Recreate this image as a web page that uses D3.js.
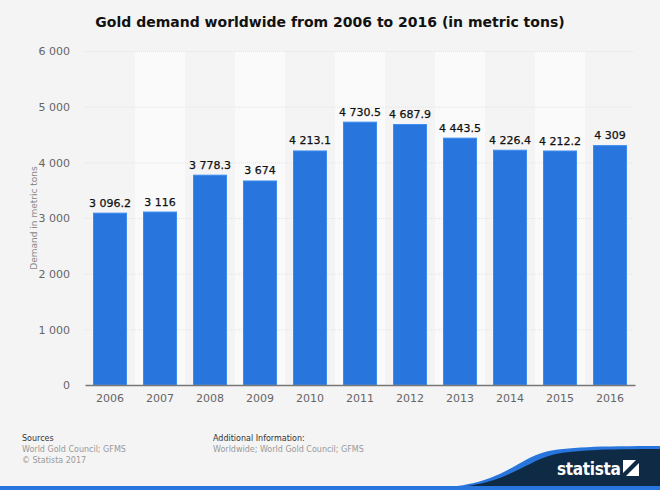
<!DOCTYPE html>
<html><head><meta charset="utf-8">
<script src="https://cdn.jsdelivr.net/npm/d3@7"></script>
<style>body{margin:0;background:#f4f4f4;} svg{display:block;}</style>
</head><body>
<svg id="c" width="660" height="490"></svg>
<script>
const years = ["2006","2007","2008","2009","2010","2011","2012","2013","2014","2015","2016"];
const demand = [3096.2, 3116, 3778.3, 3674, 4213.1, 4730.5, 4687.9, 4443.5, 4226.4, 4212.2, 4309];
const yTicks = [0, 1000, 2000, 3000, 4000, 5000, 6000];

const svg = d3.select("#c");
const font = "'DejaVu Sans', sans-serif";
svg.append("rect").attr("width",660).attr("height",490).attr("fill","#f4f4f4");

const m = {l:85, r:635, t:51, b:385};
const x = d3.scaleBand().domain(years).range([m.l, m.r]).paddingInner(0).paddingOuter(0);
const y = d3.scaleLinear().domain([0,6000]).range([m.b, m.t]);
const fmtTick = v => d3.format(",")(v).replace(/,/g, " ");

// alternating bands
svg.append("g").selectAll("rect").data(years.filter((d,i)=>i%2===1)).join("rect")
  .attr("x", d=>x(d)).attr("y", m.t).attr("width", x.bandwidth()).attr("height", m.b-m.t)
  .attr("fill","#fafafa");

// grid
svg.append("g").selectAll("line").data(yTicks.filter(d=>d>0)).join("line")
  .attr("x1", m.l).attr("x2", m.r).attr("y1", d=>y(d)+0.5).attr("y2", d=>y(d)+0.5)
  .attr("stroke","#e4e4e4").attr("stroke-dasharray","1,1");

// y axis
const ya = svg.append("g").attr("transform",`translate(${m.l-12},0)`)
  .call(d3.axisLeft(y).tickValues(yTicks).tickSize(0).tickFormat(fmtTick));
ya.select(".domain").remove();
ya.selectAll("text").attr("font-family",font).attr("font-size",11).attr("fill","#666").attr("dy","0.35em");

// bars
const bw = 34;
svg.append("g").selectAll("rect").data(demand).join("rect")
  .attr("x",(d,i)=>x(years[i])+x.bandwidth()/2-bw/2+0.5)
  .attr("y",d=>y(d)+0.5)
  .attr("width",bw-1).attr("height",d=>m.b-y(d)-0.5)
  .attr("fill","#2876dd").attr("stroke","#3b8cf0").attr("stroke-width",1);

// x axis
const xa = svg.append("g").attr("transform",`translate(0,${m.b})`)
  .call(d3.axisBottom(x).tickSize(0).tickPadding(9));
xa.select(".domain").attr("stroke","#777").attr("stroke-width",1.5);
xa.selectAll("text").attr("font-family",font).attr("font-size",11).attr("fill","#666");

// value labels
svg.append("g").selectAll("text").data(demand).join("text")
  .attr("x",(d,i)=>x(years[i])+x.bandwidth()/2)
  .attr("y",d=>y(d)-6)
  .attr("text-anchor","middle").attr("font-family",font).attr("font-size",11)
  .attr("fill","#111").attr("stroke","#111").attr("stroke-width",0.25)
  .text(d=>fmtTick(d));

// y title
svg.append("text").attr("transform",`translate(37,${(m.t+m.b)/2}) rotate(-90)`)
  .attr("text-anchor","middle").attr("font-family",font).attr("font-size",9).attr("fill","#888")
  .text("Demand in metric tons");

// title
svg.append("text").attr("x",330).attr("y",27).attr("text-anchor","middle")
  .attr("font-family",font).attr("font-size",14).attr("font-weight","bold").attr("fill","#111")
  .text("Gold demand worldwide from 2006 to 2016 (in metric tons)");

// footer
const ft = (t,x0,y0,c,s)=>svg.append("text").attr("x",x0).attr("y",y0).attr("font-family",font)
  .attr("font-size",s||8).attr("fill",c).text(t);
ft("Sources",22,441,"#333");
ft("World Gold Council; GFMS",22,452,"#999");
ft("\u00a9 Statista 2017",22,463,"#999");
ft("Additional Information:",213,441,"#333");
ft("Worldwide; World Gold Council; GFMS",213,452,"#999");

// logo
svg.append("path").attr("d","M430,488 C500,487 515,460 545,452 C565,447 600,446 660,446 L660,490 L430,490 Z").attr("fill","#2876dd");
svg.append("path").attr("d","M440,488 C505,487 522,463 552,455 C572,450 605,449 660,449 L660,490 L440,490 Z").attr("fill","#0f2a44");
svg.append("rect").attr("x",0).attr("y",486).attr("width",660).attr("height",4).attr("fill","#2876dd");
svg.append("text").attr("x",557).attr("y",475).attr("font-family","'DejaVu Sans Condensed', 'DejaVu Sans', sans-serif").attr("font-size",17)
  .attr("font-weight","bold").attr("fill","#fff").attr("letter-spacing","-0.3px").text("statista");
const ic = svg.append("g").attr("transform","translate(623,460)");
ic.append("rect").attr("width",16).attr("height",16).attr("fill","#fff");
ic.append("path").attr("d","M0,13 L13,0 L16,0 L16,3 L3,16 L0,16 Z").attr("fill","#0f2a44");
</script>
</body></html>
